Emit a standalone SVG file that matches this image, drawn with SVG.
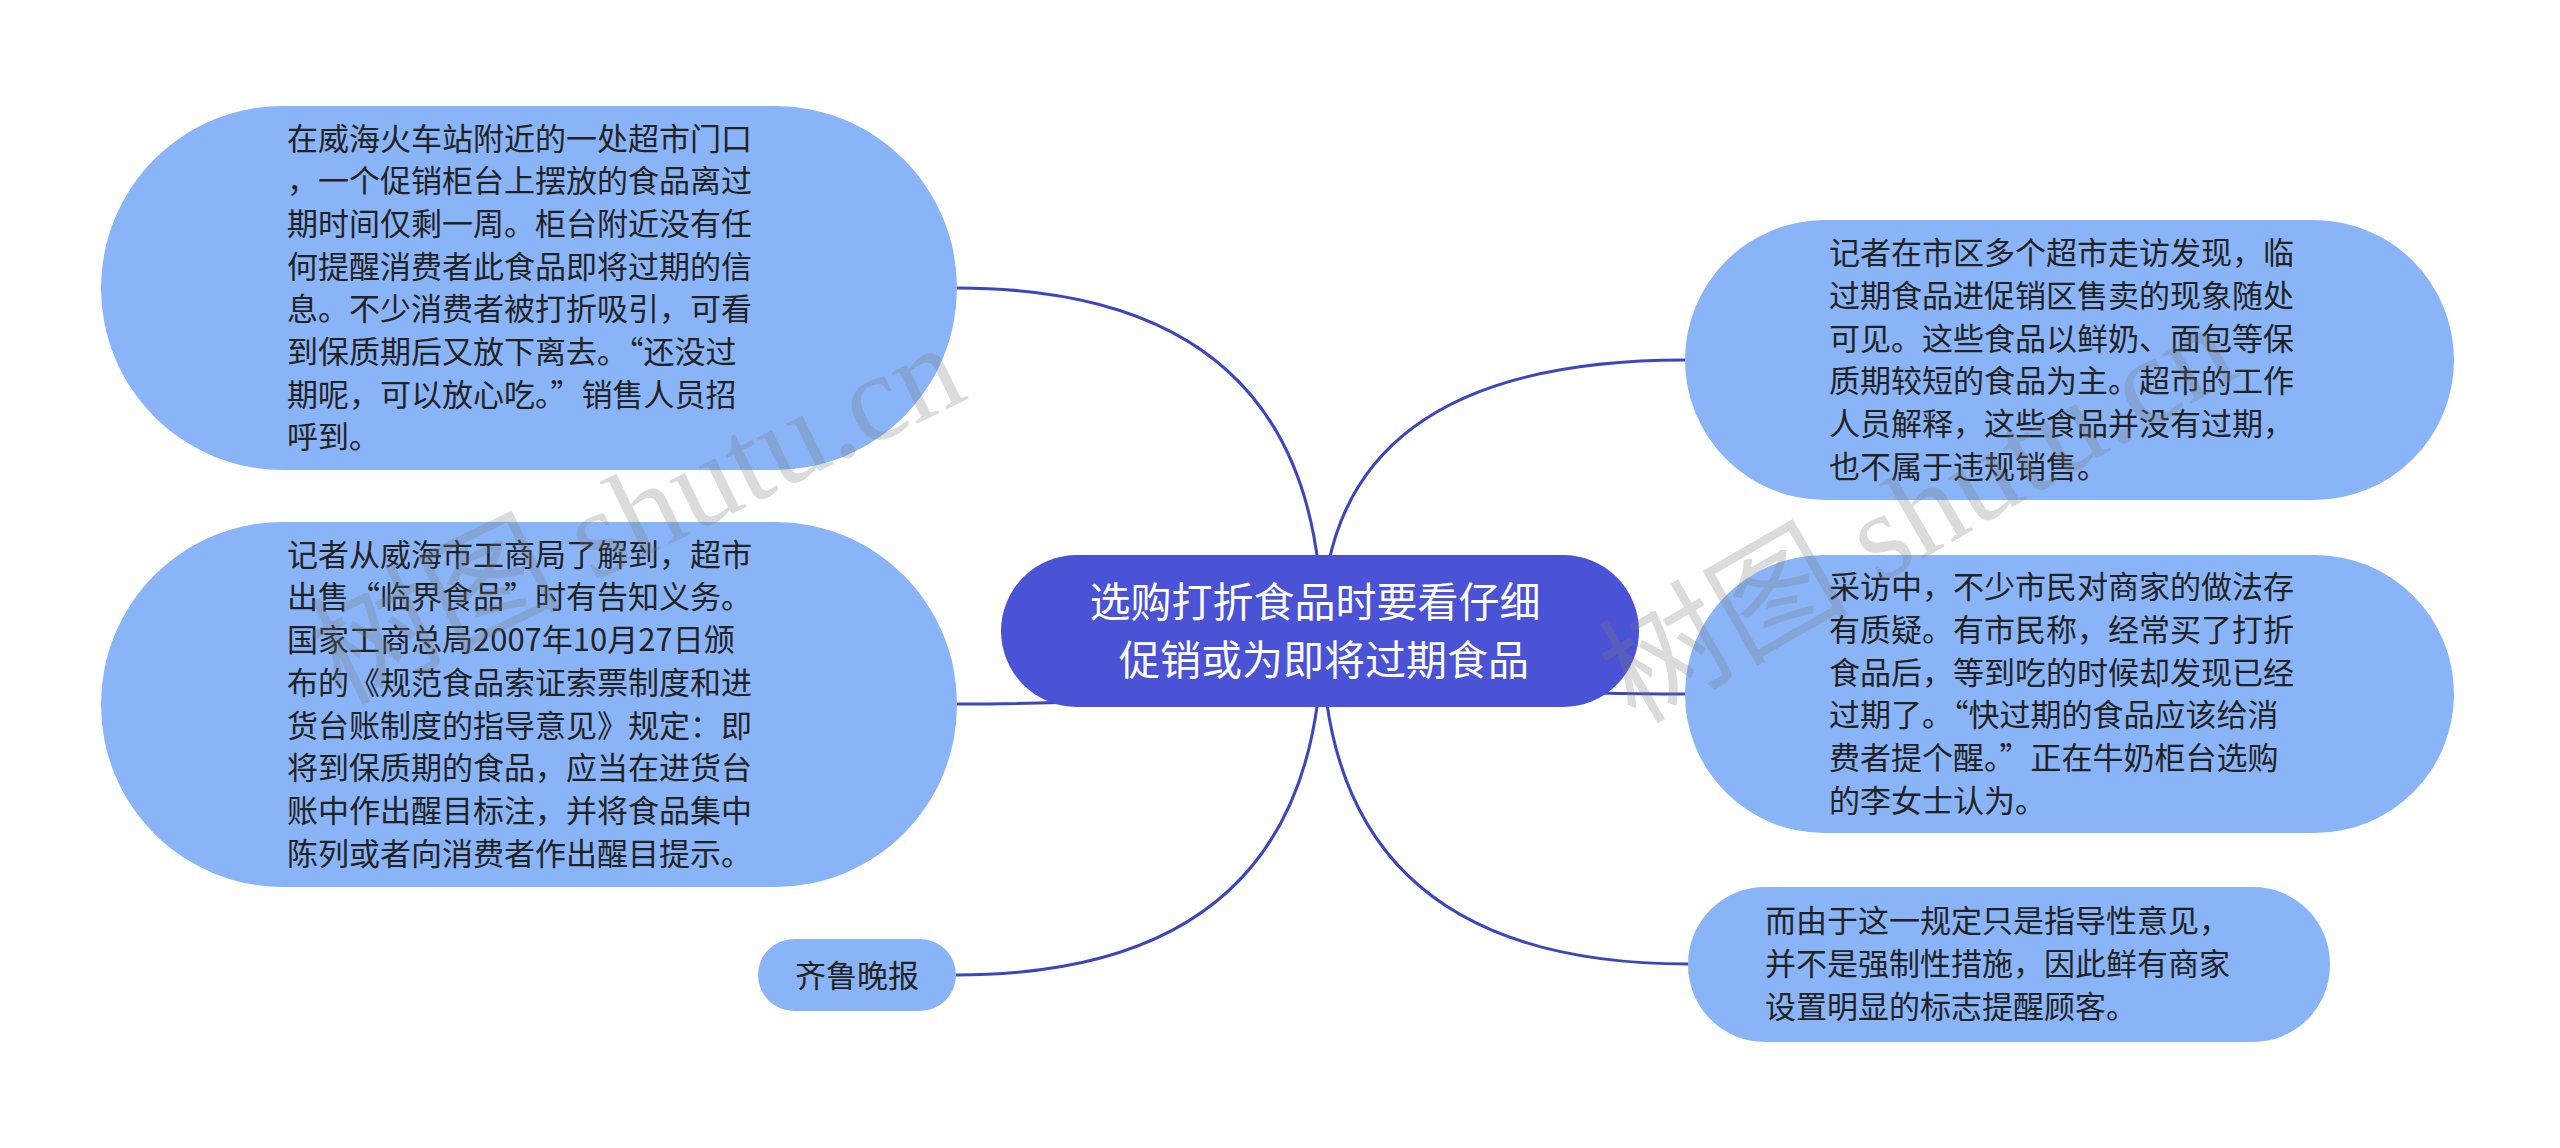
<svg xmlns="http://www.w3.org/2000/svg" width="2560" height="1148" viewBox="0 0 2560 1148">
<style>
.node{fill:#8ab4f8;}
.root{fill:#4a52d6;}
.t{font-family:"Noto Sans CJK SC","Noto Sans",sans-serif;font-size:31px;fill:#222222;}
.rt{font-family:"Noto Sans CJK SC","Noto Sans",sans-serif;font-size:41px;fill:#ffffff;text-anchor:middle;}
.edge{fill:none;stroke:#3e46bd;stroke-width:3;}
.wm{font-family:"Liberation Serif","Noto Sans CJK SC",serif;font-size:125px;fill:#7a7a7a;fill-opacity:0.27;}
</style>
<rect width="2560" height="1148" fill="#ffffff"/>
<g id="connectors">
<path class="edge" d="M1322,631 Q1322,288 957,288"/>
<path class="edge" d="M1322,631 Q1322,704 957,704"/>
<path class="edge" d="M1322,631 Q1322,975 956,975"/>
<path class="edge" d="M1322,631 Q1322,360 1685,360"/>
<path class="edge" d="M1322,631 Q1322,694 1685,694"/>
<path class="edge" d="M1322,631 Q1322,964 1688,964"/>
</g>
<g id="root">
<rect class="root" x="1001" y="555" width="638" height="152" rx="76"/>
<text class="rt" x="1315" y="617">选购打折食品时要看仔细</text>
<text class="rt" x="1324" y="675">促销或为即将过期食品</text>
</g>
<g id="node-1">
<rect class="node" x="101" y="106" width="856" height="364" rx="182"/>
<text class="t" x="287" y="150">在威海火车站附近的一处超市门口</text>
<text class="t" x="287" y="192">，一个促销柜台上摆放的食品离过</text>
<text class="t" x="287" y="235">期时间仅剩一周。柜台附近没有任</text>
<text class="t" x="287" y="278">何提醒消费者此食品即将过期的信</text>
<text class="t" x="287" y="320">息。不少消费者被打折吸引，可看</text>
<text class="t" x="287" y="363">到保质期后又放下离去。“还没过</text>
<text class="t" x="287" y="406">期呢，可以放心吃。”销售人员招</text>
<text class="t" x="287" y="448">呼到。</text>
</g>
<g id="node-2">
<rect class="node" x="101" y="522" width="856" height="365" rx="182"/>
<text class="t" x="287" y="566">记者从威海市工商局了解到，超市</text>
<text class="t" x="287" y="608">出售“临界食品”时有告知义务。</text>
<text class="t" x="287" y="651">国家工商总局2007年10月27日颁</text>
<text class="t" x="287" y="694">布的《规范食品索证索票制度和进</text>
<text class="t" x="287" y="737">货台账制度的指导意见》规定：即</text>
<text class="t" x="287" y="779">将到保质期的食品，应当在进货台</text>
<text class="t" x="287" y="822">账中作出醒目标注，并将食品集中</text>
<text class="t" x="287" y="865">陈列或者向消费者作出醒目提示。</text>
</g>
<g id="node-3">
<rect class="node" x="758" y="939" width="198" height="72" rx="36"/>
<text class="t" x="857" y="987" text-anchor="middle">齐鲁晚报</text>
</g>
<g id="node-4">
<rect class="node" x="1685" y="220" width="769" height="280" rx="140"/>
<text class="t" x="1829" y="264">记者在市区多个超市走访发现，临</text>
<text class="t" x="1829" y="307">过期食品进促销区售卖的现象随处</text>
<text class="t" x="1829" y="350">可见。这些食品以鲜奶、面包等保</text>
<text class="t" x="1829" y="392">质期较短的食品为主。超市的工作</text>
<text class="t" x="1829" y="435">人员解释，这些食品并没有过期，</text>
<text class="t" x="1829" y="478">也不属于违规销售。</text>
</g>
<g id="node-5">
<rect class="node" x="1685" y="555" width="769" height="278" rx="139"/>
<text class="t" x="1829" y="598">采访中，不少市民对商家的做法存</text>
<text class="t" x="1829" y="641">有质疑。有市民称，经常买了打折</text>
<text class="t" x="1829" y="684">食品后，等到吃的时候却发现已经</text>
<text class="t" x="1829" y="726">过期了。“快过期的食品应该给消</text>
<text class="t" x="1829" y="769">费者提个醒。”正在牛奶柜台选购</text>
<text class="t" x="1829" y="812">的李女士认为。</text>
</g>
<g id="node-6">
<rect class="node" x="1688" y="887" width="642" height="155" rx="77"/>
<text class="t" x="1765" y="932">而由于这一规定只是指导性意见，</text>
<text class="t" x="1765" y="975">并不是强制性措施，因此鲜有商家</text>
<text class="t" x="1765" y="1018">设置明显的标志提醒顾客。</text>
</g>
<g id="watermark">
<text class="wm" x="340" y="705" transform="rotate(-26 340 705)">树图 shutu.cn</text>
<text class="wm" x="1635" y="725" transform="rotate(-30 1635 725)">树图 shutu.cn</text>
</g>
</svg>
